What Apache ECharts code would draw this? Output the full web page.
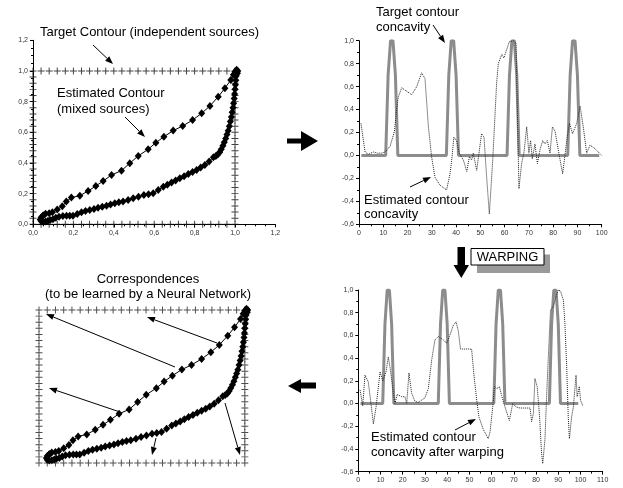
<!DOCTYPE html>
<html>
<head>
<meta charset="utf-8">
<script src="https://cdn.jsdelivr.net/npm/echarts@6/dist/echarts.min.js"></script>
<style>
html,body{margin:0;padding:0;background:#fff;}
#c{width:623px;height:488px;}
</style>
</head>
<body>
<div id="c"></div>
<script>
// ---------- DATA ----------
// positions of target contour points along each side of the unit square
const squareTicks = [0,0.04,0.08,0.12,0.16,0.2,0.24,0.28,0.32,0.36,0.4,0.44,0.48,0.52,0.56,0.6,0.64,0.68,0.72,0.76,0.8,0.84,0.88,0.92,0.96];

// estimated contour (mixed sources), traced in order
const contourX = [0.05,0.062,0.08,0.096,0.12,0.145,0.165,0.19,0.232,0.273,0.311,0.347,0.389,0.438,0.479,0.521,0.57,0.608,0.648,0.694,0.741,0.79,0.835,0.876,0.917,0.95,0.979,0.992,1.0,1.008,1.014,1.012,1.006,
  1.004,1.002,1.0,0.998,0.996,0.993,0.99,0.986,0.982,0.977,0.972,0.966,0.96,0.954,0.947,0.94,0.932,0.924,0.915,0.905,0.893,
  0.872,0.851,0.83,0.81,0.79,0.769,0.748,0.727,0.706,0.686,0.665,0.645,0.62,0.595,0.572,0.549,0.522,0.496,0.471,0.446,0.425,0.405,0.384,0.364,0.343,0.322,0.302,0.281,0.26,0.24,0.219,0.198,0.182,0.166,0.148,0.129,0.113,0.099,0.085,0.074,0.062,0.05,0.04,0.036,0.04,0.05];
const contourY = [0.058,0.068,0.072,0.078,0.097,0.118,0.148,0.174,0.187,0.217,0.25,0.282,0.322,0.35,0.398,0.446,0.489,0.532,0.571,0.611,0.641,0.68,0.724,0.772,0.832,0.887,0.941,0.975,0.995,1.008,1.0,0.985,0.968,
  0.94,0.91,0.88,0.85,0.82,0.79,0.76,0.73,0.70,0.67,0.64,0.61,0.585,0.56,0.535,0.512,0.49,0.47,0.455,0.445,0.437,
  0.41,0.387,0.37,0.354,0.341,0.328,0.314,0.3,0.286,0.272,0.258,0.245,0.224,0.202,0.196,0.191,0.18,0.17,0.159,0.148,0.143,0.137,0.129,0.121,0.114,0.108,0.1,0.093,0.086,0.078,0.067,0.056,0.056,0.056,0.054,0.05,0.042,0.033,0.028,0.023,0.018,0.016,0.022,0.032,0.045,0.058];

// target contour concavity (contour point index 1..99)
const concIdx = [1,11,12,13,14,15,16,36,37,38,39,40,41,61,62,63,64,65,66,86,87,88,89,90,91,99];
const concVal = [0,0,0.7,1,1,0.7,0,0,0.7,1,1,0.7,0,0,0.7,1,1,0.7,0,0,0.7,1,1,0.7,0,0];

// estimated contour concavity
const estIdx = [0.8,2.5,3.8,5.9,7.6,9.3,10.7,12.8,14.6,15.5,16.2,17.6,19.6,21.7,23.8,25.8,27.2,28.6,29.9,31.3,33.4,36.1,37.5,38.2,39.1,40.2,41.3,43.0,44.4,45.5,46.4,47.1,48.5,50.5,51.5,52.6,53.7,55.1,56.7,57.4,58.8,59.7,60.8,61.9,63.6,64.7,65.9,67.0,68.0,69.1,70.0,70.7,71.4,72.5,73.5,74.6,75.7,76.6,77.6,78.7,79.7,80.8,82.1,83.9,85.6,86.7,88.0,89.7,91.1,92.4,93.8,95.2,97.2,98.6,100];
const estVal = [0.28,0.03,0.01,0.03,0.02,0.02,0.03,0.08,0.21,0.40,0.51,0.59,0.56,0.53,0.60,0.72,0.67,0.25,-0.01,-0.19,-0.26,-0.30,-0.16,-0.04,0.16,0.13,0.02,-0.04,-0.14,-0.01,-0.04,0.02,-0.13,0.19,0.16,-0.19,-0.51,-0.04,0.63,0.80,0.88,0.85,0.92,0.99,1.00,0.98,-0.29,-0.07,0.03,0.25,0.02,0.13,-0.03,0.10,-0.07,0.05,0.13,0.10,0.13,0.02,0.25,0.21,0.05,-0.16,0.13,0.28,0.19,0.28,0.43,0.25,0.02,0.09,0.06,0.03,0.0];

// estimated contour concavity after warping
const warpIdx = [0.8,2,3,4.5,5.5,6.8,8,9.8,11,12.5,13.5,14.5,15.8,16.5,17.5,19.5,21,21.8,22.8,24,25.5,27,28.5,30,31.5,33,34.5,36,38.3,39.8,41,42.8,44,45,46,48.8,51,52,53.3,54.3,56.3,58.5,59.3,60.5,61.3,62.3,63.5,64.5,66,68,69.5,71,72.8,75.8,77.3,78,78.8,79.5,80.5,81.5,82.5,83,84,85,86,86.5,87.8,89,90,91,92.3,93,93.8,94.5,95,96,96.8,98,98.5,99.5,100,101];
const warpVal = [0.12,-0.02,0.25,0.19,0.03,-0.18,-0.03,0.28,0.2,0.28,0.41,0.29,0.09,0.0,0.08,0.06,0.06,0.0,0.27,0.09,0.02,0.01,0.03,0.05,0.13,0.38,0.56,0.59,0.56,0.53,0.59,0.69,0.72,0.64,0.48,0.48,0.48,0.26,0.03,-0.12,-0.23,-0.31,-0.25,-0.03,0.15,0.13,0.15,0.07,-0.03,-0.15,0.0,-0.03,-0.04,-0.04,-0.04,-0.16,-0.09,0.22,0.15,-0.09,-0.44,-0.53,-0.32,0.18,0.61,0.82,0.86,0.94,1.0,0.99,0.91,0.7,0.32,-0.12,-0.31,-0.12,-0.03,0.25,0.06,0.15,0.03,-0.02];

// tick labels
const unitTicks = [0,0.2,0.4,0.6,0.8,1.0,1.2];
const concTicks = [-0.6,-0.4,-0.2,0,0.2,0.4,0.6,0.8,1.0];

// ---------- BUILD ----------
const square = [];
squareTicks.forEach(t => square.push([t, 1]));
squareTicks.forEach(t => square.push([1, 1 - t]));
squareTicks.forEach(t => square.push([1 - t, 0]));
squareTicks.forEach(t => square.push([0, t]));
const contour = contourX.map((x, i) => [x, contourY[i]]);
const conc = concIdx.map((x, i) => [x, concVal[i]]);
const est = estIdx.map((x, i) => [x, estVal[i]]);
const warp = warpIdx.map((x, i) => [x, warpVal[i]]);

const chart = echarts.init(document.getElementById('c'), null, {renderer: 'canvas'});
const TICKFONT = {fontFamily: '"Liberation Sans Narrow","Liberation Sans",Arial,sans-serif', fontSize: 7, color: '#333'};
const comma = v => v.toFixed(1).replace('.', ',');
const PLUS = 'path://M4.3,0H5.7V4.3H10V5.7H5.7V10H4.3V5.7H0V4.3H4.3Z';

function valAxis(gi, min, max, interval, fmt, show, extra) {
  return Object.assign({
    type: 'value', gridIndex: gi, min, max, interval, show,
    splitLine: {show: false},
    axisLine: {show: true, onZero: false, lineStyle: {color: '#000', width: 1}},
    axisTick: {show: true, length: 3, lineStyle: {color: '#000'}},
    minorTick: {show: true, splitNumber: 2, length: 2, lineStyle: {color: '#000'}},
    axisLabel: Object.assign({formatter: fmt, margin: 5}, TICKFONT)
  }, extra || {});
}

const option = {
  animation: false,
  backgroundColor: '#fff',
  grid: [
    {left: 33, top: 40.3, width: 242.4, height: 184},
    {left: 359, top: 40.7, width: 242.7, height: 183.6},
    {left: 39, top: 279.4, width: 247, height: 183.6},
    {left: 358.3, top: 290, width: 244.4, height: 181.6}
  ],
  xAxis: [
    valAxis(0, 0, 1.2, 0.2, comma, true, {minorTick: {show: true, splitNumber: 4, length: 2, lineStyle: {color: '#000'}}}),
    valAxis(1, 0, 100, 10, v => String(v), true),
    valAxis(2, 0, 1.2, 0.2, comma, false),
    valAxis(3, 0, 110, 10, v => String(v), true)
  ],
  yAxis: [
    valAxis(0, 0, 1.2, 0.2, comma, true, {minorTick: {show: true, splitNumber: 4, length: 2, lineStyle: {color: '#000'}}}),
    valAxis(1, -0.6, 1.0, 0.2, comma, true),
    valAxis(2, 0, 1.2, 0.2, comma, false),
    valAxis(3, -0.6, 1.0, 0.2, comma, true)
  ],
  series: [
    {type: 'scatter', xAxisIndex: 0, yAxisIndex: 0, data: square, symbol: PLUS, symbolSize: 7, itemStyle: {color: '#111'}, silent: true},
    {type: 'line', xAxisIndex: 0, yAxisIndex: 0, data: contour, symbol: 'diamond', symbolSize: [7, 8], showSymbol: true,
      lineStyle: {color: '#000', width: 1}, itemStyle: {color: '#000'}},
    {type: 'scatter', xAxisIndex: 2, yAxisIndex: 2, data: square, symbol: PLUS, symbolSize: 7, itemStyle: {color: '#222'}, silent: true},
    {type: 'line', xAxisIndex: 2, yAxisIndex: 2, data: contour, symbol: 'diamond', symbolSize: [7, 8], showSymbol: true,
      lineStyle: {color: '#000', width: 1}, itemStyle: {color: '#000'}},
    {type: 'line', xAxisIndex: 1, yAxisIndex: 1, data: conc, symbol: 'none', lineStyle: {color: '#8c8c8c', width: 3}},
    {type: 'line', xAxisIndex: 1, yAxisIndex: 1, data: est, symbol: 'none', lineStyle: {color: '#222', width: 1, type: 'dotted'}},
    {type: 'line', xAxisIndex: 3, yAxisIndex: 3, data: conc, symbol: 'none', lineStyle: {color: '#8c8c8c', width: 3}},
    {type: 'line', xAxisIndex: 3, yAxisIndex: 3, data: warp, symbol: 'none', lineStyle: {color: '#222', width: 1, type: 'dotted'}}
  ]
};

// ---------- ANNOTATIONS ----------
const FONT = '13px "Liberation Sans", Arial, sans-serif';
const g = [];
function txt(s, x, y, align) {
  g.push({type: 'text', z: 100, style: {text: s, x, y, font: FONT, fill: '#000', textAlign: align || 'left', textVerticalAlign: 'middle'}});
}
function arrow(x1, y1, x2, y2) {
  const a = Math.atan2(y2 - y1, x2 - x1), L = 8, W = 3;
  const bx = x2 - L * Math.cos(a), by = y2 - L * Math.sin(a);
  g.push({type: 'line', z: 100, shape: {x1, y1, x2: bx, y2: by}, style: {stroke: '#000', lineWidth: 1}});
  g.push({type: 'polygon', z: 100, shape: {points: [[x2, y2], [bx - W * Math.sin(a), by + W * Math.cos(a)], [bx + W * Math.sin(a), by - W * Math.cos(a)]]}, style: {fill: '#000'}});
}
txt('Target Contour (independent sources)', 40, 32);
arrow(93, 45, 113, 64);
txt('Estimated Contour', 57, 93);
txt('(mixed sources)', 57, 109);
arrow(125, 117, 145, 137);

txt('Target contour', 376, 12);
txt('concavity', 376, 27);
arrow(433, 25, 445, 43);
txt('Estimated contour', 364, 200);
txt('concavity', 364, 214);
arrow(410, 187, 431, 177);

txt('Correspondences', 148, 279, 'center');
txt('(to be learned by a Neural Network)', 148, 294, 'center');
arrow(217, 343, 147, 317);
arrow(175, 367, 46, 314);
arrow(120, 412, 49, 388);
arrow(156, 438, 152, 455);
arrow(225, 403, 240, 455);

txt('Estimated contour', 371, 437);
txt('concavity after warping', 371, 452);
arrow(455, 430, 476, 419);

// block arrows
g.push({type: 'polygon', z: 100, shape: {points: [[287, 138.5], [301, 138.5], [301, 131], [318, 141], [301, 151], [301, 143.5], [287, 143.5]]}, style: {fill: '#000'}});
g.push({type: 'polygon', z: 100, shape: {points: [[316, 382.5], [301, 382.5], [301, 379], [288, 386], [301, 393], [301, 388.5], [316, 388.5]]}, style: {fill: '#000'}});
g.push({type: 'polygon', z: 100, shape: {points: [[457.5, 247], [465, 247], [465, 265], [469, 265], [461.3, 278], [453.5, 265], [457.5, 265]]}, style: {fill: '#000'}});
// WARPING box
g.push({type: 'rect', z: 99, shape: {x: 477, y: 254.5, width: 73, height: 18.5}, style: {fill: '#9a9a9a'}});
g.push({type: 'rect', z: 100, shape: {x: 471, y: 248.5, width: 73, height: 16.5}, style: {fill: '#fff', stroke: '#000', lineWidth: 1}});
txt('WARPING', 507.5, 257, 'center');

option.graphic = g;
chart.setOption(option);
</script>
</body>
</html>
